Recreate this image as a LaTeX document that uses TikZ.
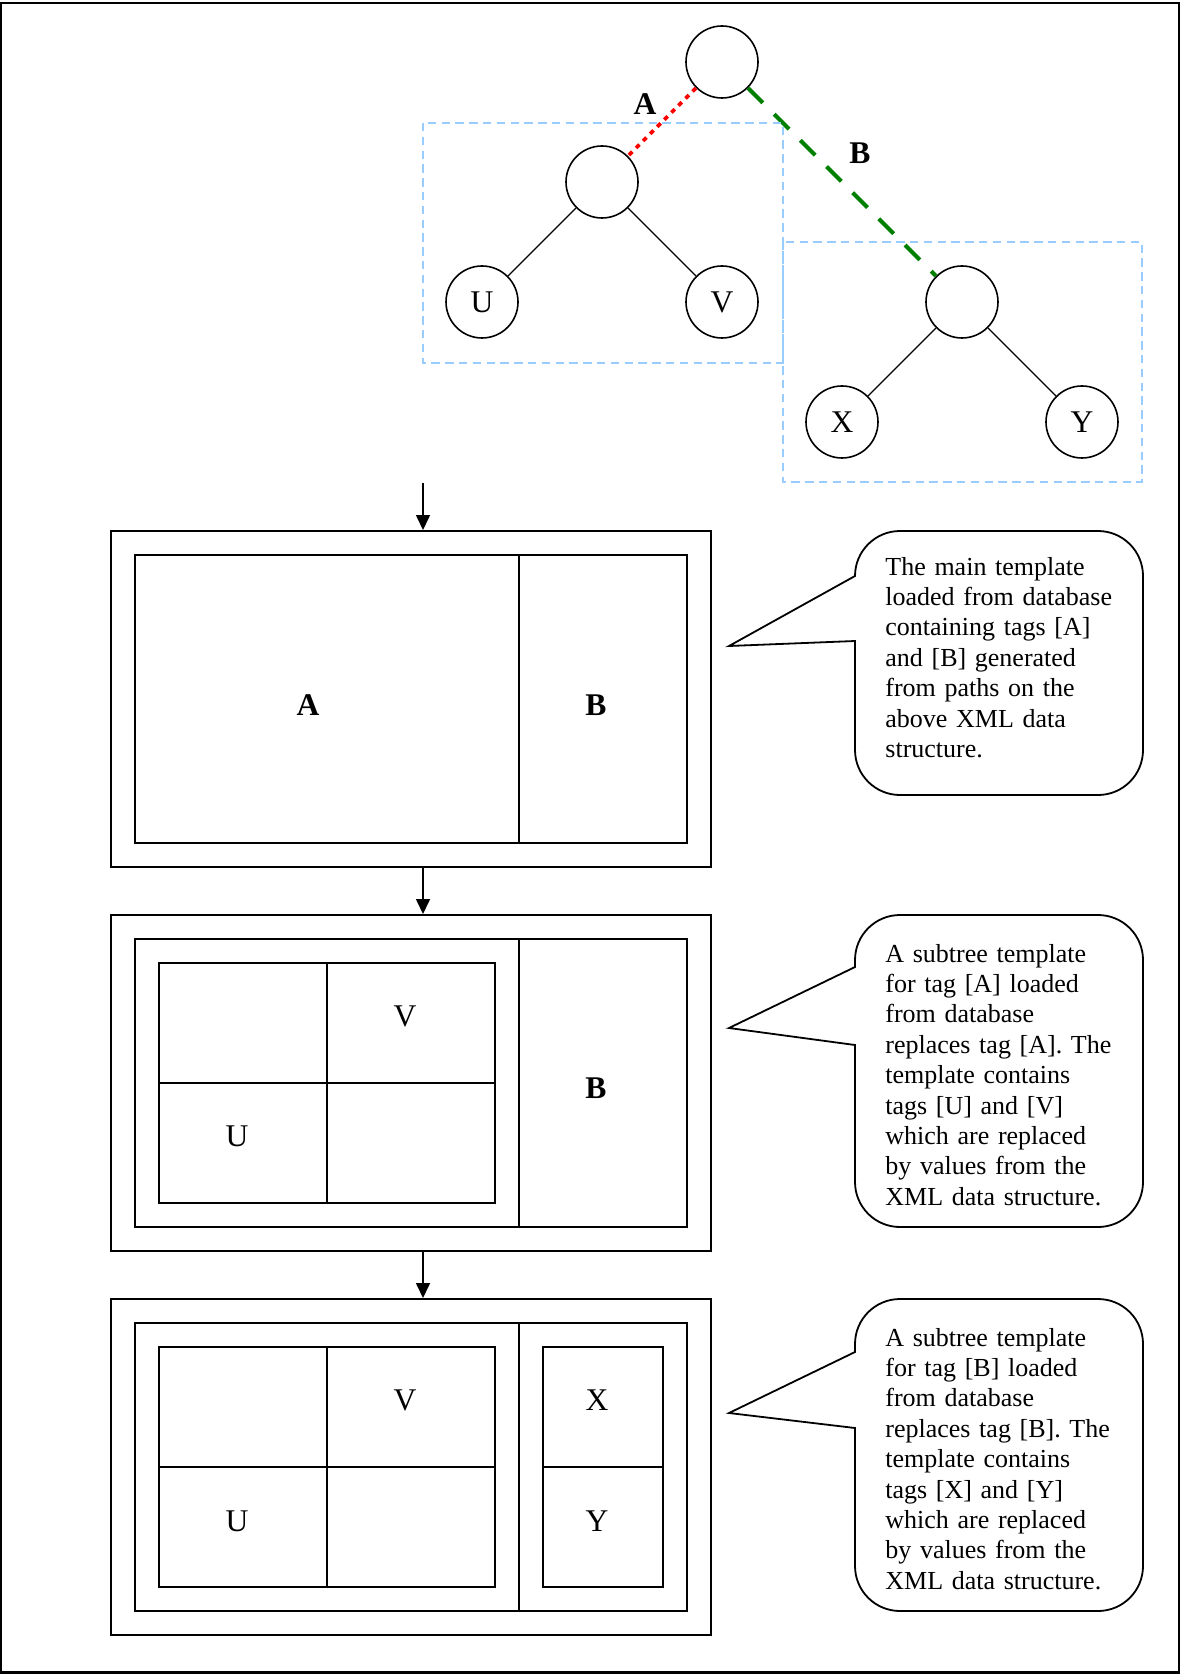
\documentclass[tikz,border=0pt]{standalone}
\usepackage{fontspec}
\setmainfont{Liberation Serif}
\usetikzlibrary{arrows.meta, positioning}
\definecolor{boxblue}{RGB}{153,204,255}
\definecolor{pathgreen}{RGB}{0,128,0}
\tikzstyle{leaf}=[draw, circle, minimum size=36pt, inner sep=0pt, line width=0.8pt, font=\fontsize{15.8}{19}\selectfont]
\tikzstyle{edge}=[line width=0.65pt]
\tikzstyle{linkA}=[red, line width=1.8pt, dash pattern=on 2.4pt off 2.6pt]
\tikzstyle{linkB}=[pathgreen, line width=2.1pt, dash pattern=on 10.5pt off 8pt]
\tikzstyle{region}=[boxblue, line width=0.85pt, dash pattern=on 4.2pt off 2.7pt]
\tikzstyle{tag}=[inner sep=0pt, font=\fontsize{15.8}{19}\selectfont\bfseries]
\tikzstyle{val}=[inner sep=0pt, font=\fontsize{15.8}{19}\selectfont]
\tikzstyle{frame}=[draw, rectangle, minimum width=300pt, minimum height=168pt, inner sep=0pt, line width=1pt]
\tikzstyle{cell}=[line width=0.9pt]
\tikzstyle{bubble}=[line width=0.9pt]
\tikzstyle{note}=[inner sep=0pt, text width=140pt, align=left, font=\fontsize{13}{15.2}\selectfont]

\begin{document}
\begin{tikzpicture}[x=0.5pt, y=-0.5pt, node distance=84.85pt, >={Triangle[length=7.5pt,width=7pt]}]
    \useasboundingbox (0,0) rectangle (1180,1674);
    \draw[line width=1.1pt] (1.2,2.8) rectangle (1178.8,1672.5);

    % XML data structure
    \node[leaf] (root) at (722,62) {};
    \node[leaf, below left of=root] (sub1) {};
    \node[leaf, below left of=sub1] (u) {U};
    \node[leaf, below right of=sub1] (v) {V};
    \node[leaf, below right of=root, node distance=169.7pt] (sub2) {};
    \node[leaf, below left of=sub2] (x) {X};
    \node[leaf, below right of=sub2] (y) {Y};
    \draw[linkA] (root) -- (sub1);
    \draw[linkB] (root) -- (sub2);
    \draw[edge] (sub1) -- (u);
    \draw[edge] (sub1) -- (v);
    \draw[edge] (sub2) -- (x);
    \draw[edge] (sub2) -- (y);
    \node[tag] (tagA) at (645,104) {A};
    \node[tag] (tagB) at (860,153) {B};
    \draw[region] (423,123) rectangle (783,363);
    \draw[region] (783,242) rectangle (1142,482);

    % templates
    \coordinate (entry) at (423,483);
    \node[frame] (frame1) at (411,699) {};
    \node[frame, below of=frame1, node distance=192pt] (frame2) {};
    \node[frame, below of=frame2, node distance=192pt] (frame3) {};
    \draw[->, line width=0.8pt] (entry) -- (frame1.north -| entry);
    \draw[->, line width=0.8pt] (frame1.south -| entry) -- (frame2.north -| entry);
    \draw[->, line width=0.8pt] (frame2.south -| entry) -- (frame3.north -| entry);

    \draw[cell] (135,555) rectangle (687,843);
    \draw[cell] (519,555) -- (519,843);
    \node[tag] (a1) at (308,705) {A};
    \node[tag] (b1) at (596,705) {B};

    \draw[cell] (135,939) rectangle (687,1227);
    \draw[cell] (519,939) -- (519,1227);
    \draw[cell] (159,963) rectangle (495,1203);
    \draw[cell] (327,963) -- (327,1203);
    \draw[cell] (159,1083) -- (495,1083);
    \node[val] (v2) at (405,1016) {V};
    \node[val] (u2) at (237,1136) {U};
    \node[tag] (b2) at (596,1088) {B};

    \draw[cell] (135,1323) rectangle (687,1611);
    \draw[cell] (519,1323) -- (519,1611);
    \draw[cell] (159,1347) rectangle (495,1587);
    \draw[cell] (327,1347) -- (327,1587);
    \draw[cell] (159,1467) -- (495,1467);
    \draw[cell] (543,1347) rectangle (663,1587);
    \draw[cell] (543,1467) -- (663,1467);
    \node[val] (v3) at (405,1400) {V};
    \node[val] (u3) at (237,1521) {U};
    \node[val] (x3) at (597,1400) {X};
    \node[val] (y3) at (597,1521) {Y};

    % callouts
    \draw[bubble] (855,576) -- (729,646) -- (855,641) -- (855,750)
        arc[start angle=180, end angle=90, radius=45] -- (1098,795)
        arc[start angle=90, end angle=0, radius=45] -- (1143,576)
        arc[start angle=0, end angle=-90, radius=45] -- (900,531)
        arc[start angle=270, end angle=180, radius=45] -- cycle;
    \node[note, anchor=base west] (note1) at (885,575)
        {The main template\\loaded from database\\containing tags [A]\\and [B] generated\\from paths on the\\above XML data\\structure.};

    \draw[bubble] (855,967) -- (729,1028) -- (855,1045) -- (855,1182)
        arc[start angle=180, end angle=90, radius=45] -- (1098,1227)
        arc[start angle=90, end angle=0, radius=45] -- (1143,960)
        arc[start angle=0, end angle=-90, radius=45] -- (900,915)
        arc[start angle=270, end angle=180, radius=45] -- cycle;
    \node[note, anchor=base west] (note2) at (885,962)
        {A subtree template\\for tag [A] loaded\\from database\\replaces tag [A]. The\\template contains\\tags [U] and [V]\\which are replaced\\by values from the\\XML data structure.};

    \draw[bubble] (855,1352) -- (729,1413) -- (855,1428) -- (855,1566)
        arc[start angle=180, end angle=90, radius=45] -- (1098,1611)
        arc[start angle=90, end angle=0, radius=45] -- (1143,1344)
        arc[start angle=0, end angle=-90, radius=45] -- (900,1299)
        arc[start angle=270, end angle=180, radius=45] -- cycle;
    \node[note, anchor=base west] (note3) at (885,1346)
        {A subtree template\\for tag [B] loaded\\from database\\replaces tag [B]. The\\template contains\\tags [X] and [Y]\\which are replaced\\by values from the\\XML data structure.};
\end{tikzpicture}
\end{document}
